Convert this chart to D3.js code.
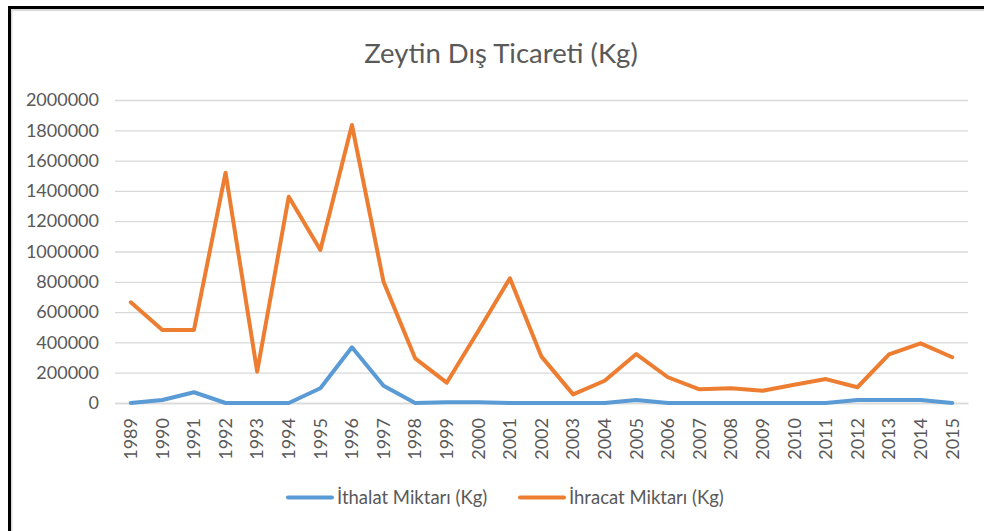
<!DOCTYPE html>
<html><head><meta charset="utf-8">
<script src="https://cdn.jsdelivr.net/npm/d3@7"></script>
<style>html,body{margin:0;padding:0;background:#fff;}svg{display:block;}</style>
</head><body>
<script>
const years = ["1989","1990","1991","1992","1993","1994","1995","1996","1997","1998","1999","2000","2001","2002","2003","2004","2005","2006","2007","2008","2009","2010","2011","2012","2013","2014","2015"];
const ithalat = [0,20000,71000,0,0,0,97000,368000,114000,0,5000,5000,0,0,0,0,20000,0,0,0,0,0,0,20000,20000,20000,0];
const ihracat = [665000,482000,482000,1520000,207000,1362000,1010000,1835000,800000,295000,134000,475000,823000,306000,57000,147000,323000,170000,90000,97000,81000,121000,158000,104000,321000,394000,302000];
const yTicks = [0,200000,400000,600000,800000,1000000,1200000,1400000,1600000,1800000,2000000];
const seriesNames = ["İthalat Miktarı (Kg)","İhracat Miktarı (Kg)"];
const colors = ["#5B9BD5","#ED7D31"];
const title = "Zeytin Dış Ticareti (Kg)";

const W=984,H=531;
const font = "Lato, 'Open Sans', sans-serif";
const svg = d3.select("body").append("svg").attr("width",W).attr("height",H);
svg.append("rect").attr("width",W).attr("height",H).attr("fill","#fff");
// frame
svg.append("rect").attr("x",8).attr("y",6).attr("width",W).attr("height",3).attr("fill","#000");
svg.append("rect").attr("x",8).attr("y",6).attr("width",3).attr("height",H).attr("fill","#000");
svg.append("rect").attr("x",11).attr("y",9).attr("width",W).attr("height",2).attr("fill","#D9D9D9");
svg.append("rect").attr("x",11).attr("y",9).attr("width",1.5).attr("height",H).attr("fill","#D9D9D9");

const x = d3.scaleBand().domain(years).range([115,968]);
const y = d3.scaleLinear().domain([0,2000000]).range([403,100]);

svg.append("text").attr("x",501).attr("y",63).attr("text-anchor","middle")
  .attr("font-family",font).attr("font-size",27.5).attr("fill","#595959").text(title);

// gridlines
const grid = svg.append("g").attr("transform","translate(115,0)")
  .call(d3.axisLeft(y).tickValues(yTicks).tickSize(-(968-115)).tickFormat(""));
grid.select(".domain").remove();
grid.selectAll("line").attr("stroke","#D9D9D9").attr("stroke-width",1.3);

// y axis labels
const ya = svg.append("g").attr("transform","translate(99,0)")
  .call(d3.axisLeft(y).tickValues(yTicks).tickSize(0).tickPadding(0).tickFormat(d3.format("d")));
ya.select(".domain").remove();
ya.selectAll("text").attr("font-family",font).attr("font-size",18).attr("fill","#595959");

// x axis
const xa = svg.append("g").attr("transform","translate(0,403)")
  .call(d3.axisBottom(x).tickSize(0).tickPadding(0));
xa.select(".domain").attr("stroke","#D9D9D9").attr("stroke-width",1.3);
xa.selectAll("text").attr("font-family",font).attr("font-size",18).attr("fill","#595959")
  .attr("transform","rotate(-90)").attr("text-anchor","end").attr("x",-15).attr("y",0).attr("dy","0.35em");

const line = d3.line().x((d,i)=>x(years[i])+x.bandwidth()/2).y(d=>y(d));
[ithalat, ihracat].forEach((s,k)=>{
  svg.append("path").datum(s).attr("d",line).attr("fill","none").attr("stroke",colors[k])
    .attr("stroke-width",4).attr("stroke-linejoin","round").attr("stroke-linecap","round");
});

// legend
const legX = [288,520];
seriesNames.forEach((n,k)=>{
  const g = svg.append("g").attr("transform",`translate(${legX[k]},497.5)`);
  g.append("line").attr("x1",0).attr("x2",44).attr("stroke",colors[k]).attr("stroke-width",4).attr("stroke-linecap","round");
  g.append("text").attr("x",49).attr("y",0).attr("dy","0.35em").attr("font-family",font).attr("font-size",18.5).attr("fill","#595959").text(n);
});
</script>
</body></html>
